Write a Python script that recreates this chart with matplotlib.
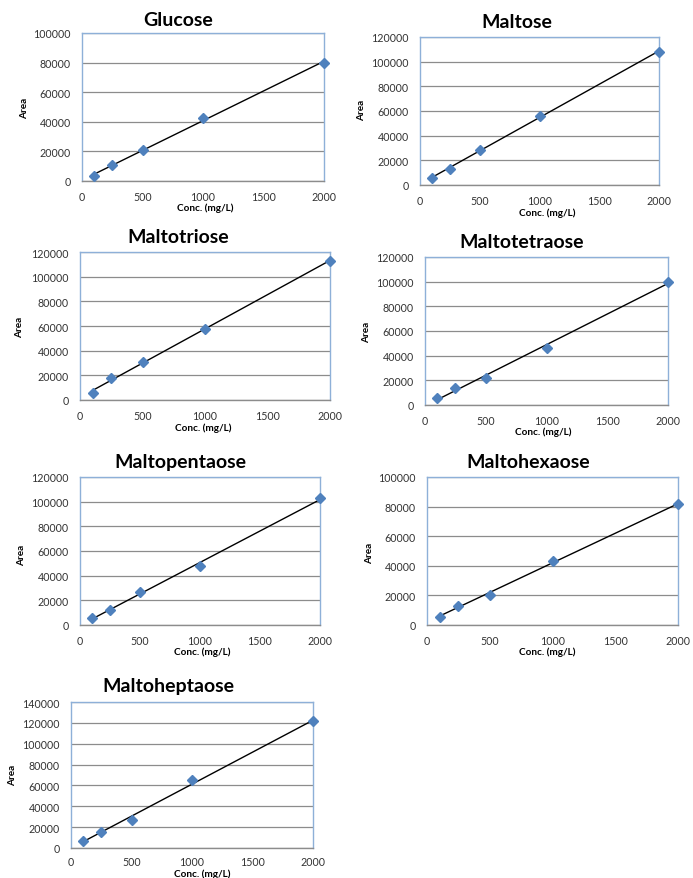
import numpy as np
import matplotlib
matplotlib.use("Agg")
import matplotlib.pyplot as plt

plt.rcParams['font.family'] = ['Lato', 'DejaVu Sans']

conc = [100, 250, 500, 1000, 2000]
names = ["Glucose", "Maltose", "Maltotriose", "Maltotetraose",
         "Maltopentaose", "Maltohexaose", "Maltoheptaose"]
glucose = [3500, 10500, 21000, 42500, 80000]
maltose = [6000, 13000, 28500, 56000, 108000]
maltotriose = [6000, 17500, 30500, 57500, 113000]
maltotetraose = [5500, 13500, 22000, 46500, 100000]
maltopentaose = [6000, 12000, 26500, 47500, 103000]
maltohexaose = [5500, 13000, 20500, 43500, 81500]
maltoheptaose = [7000, 15000, 27000, 65000, 121500]
series = [glucose, maltose, maltotriose, maltotetraose,
          maltopentaose, maltohexaose, maltoheptaose]
ymax = [100000, 120000, 120000, 120000, 120000, 100000, 140000]
xticks = [0, 500, 1000, 1500, 2000]

W, H = 693, 879
# plot-area boxes in pixels: left, top, right, bottom
boxes = [(82, 34, 324, 182), (420, 38, 659, 186),
         (80, 253, 330, 401), (425, 258, 668, 406),
         (80, 478, 320, 626), (427, 478, 678, 626),
         (71, 703, 313, 849)]
titles_xy = [(178, 20), (517, 23), (178, 238), (522, 243),
             (180, 463), (528, 463), (168, 687)]
ylab_xy = [(25, 108), (362, 110), (20, 327), (367, 332),
           (22, 555), (370, 553), (13, 775)]
xlab_xy = [(205, 208), (547, 213), (203, 428), (543, 432),
           (202, 652), (547, 652), (202, 874)]
xpads = [7, 7, 7, 7, 7, 7, 5.5]

fig = plt.figure(figsize=(W / 100, H / 100), dpi=100)
blue = "#4F81BD"
border = "#8EB0D8"
grid = "#8C8C8C"

for i, name in enumerate(names):
    l, t, r, b = boxes[i]
    ax = fig.add_axes([l / W, 1 - b / H, (r - l) / W, (b - t) / H])
    y = series[i]
    ax.set_xlim(0, 2000)
    ax.set_ylim(0, ymax[i])
    ax.set_yticks(np.arange(0, ymax[i] + 1, 20000))
    ax.set_xticks(xticks)
    ax.yaxis.grid(True, color=grid, linewidth=0.9)
    ax.set_axisbelow(True)
    for s in ["top", "left", "right"]:
        ax.spines[s].set_color(border)
        ax.spines[s].set_linewidth(1.0)
    ax.spines["bottom"].set_color(grid)
    ax.spines["bottom"].set_linewidth(1.0)
    ax.tick_params(length=0, labelsize=7.7, labelcolor="#333333")
    ax.tick_params(axis='x', pad=xpads[i])
    ax.tick_params(axis='y', pad=8)
    coef = np.polyfit(conc, y, 1)
    xs = np.array([conc[0], conc[-1]])
    ax.plot(xs, np.polyval(coef, xs), color="black", linewidth=1.0, zorder=3)
    ax.plot(conc, y, linestyle="none", marker="D", markersize=5.5,
            color=blue, zorder=4, clip_on=False)
    tx, ty = titles_xy[i]
    fig.text(tx / W, 1 - ty / H, name, ha="center", va="center",
             fontsize=14, fontweight="bold", color="black")
    yx, yy = ylab_xy[i]
    fig.text(yx / W, 1 - yy / H, "Area", ha="center", va="center",
             rotation=90, fontsize=7.2, fontweight="bold", color="black")
    xx, xy = xlab_xy[i]
    fig.text(xx / W, 1 - xy / H, "Conc. (mg/L)", ha="center", va="center",
             fontsize=7.2, fontweight="bold", color="black")

fig.savefig("out.png", dpi=100, facecolor="white")
